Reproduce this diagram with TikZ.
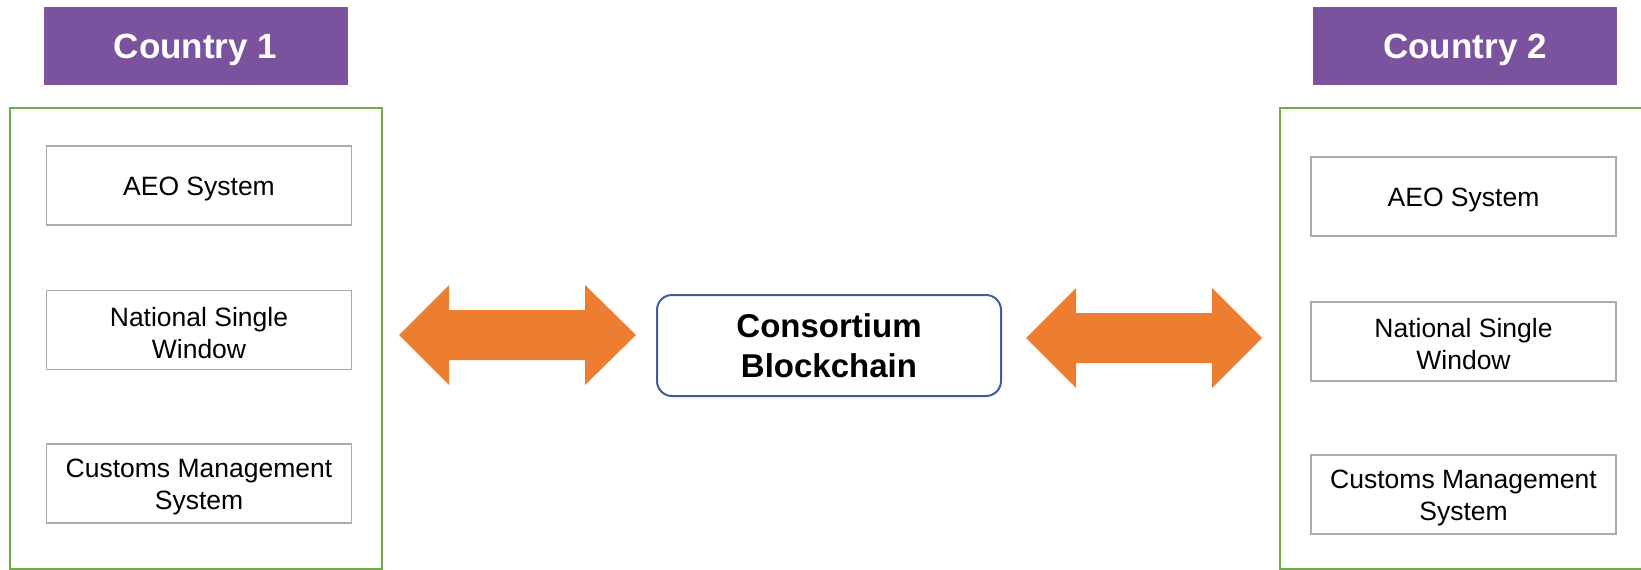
\documentclass[tikz,border=0pt]{standalone}
\usepackage{fontspec}
\setmainfont{Liberation Sans}
\definecolor{hdrc}{HTML}{7B529E}
\definecolor{arrc}{HTML}{ED7D31}
\definecolor{grnc}{HTML}{70AD47}
\definecolor{gryc}{HTML}{ABABAB}
\definecolor{bluc}{HTML}{3F5F9B}
\begin{document}
\begin{tikzpicture}[x=1pt,y=-1pt,
  hdr/.style={fill=hdrc, text=white, font=\fontsize{35}{40}\selectfont\bfseries, minimum width=304pt, minimum height=78pt, inner sep=0pt, text height=25pt, text depth=0pt},
  sysbox/.style={draw=gryc, line width=1.5pt, fill=white, minimum width=305pt, minimum height=79pt, inner sep=0pt},
  systext/.style={align=center, font=\fontsize{26.5}{32}\selectfont, inner sep=0pt, yshift=-3pt},
  grp/.style={draw=grnc, line width=2pt},
  chain/.style={draw=bluc, line width=2pt, rounded corners=15pt, minimum width=344pt, minimum height=101pt, align=center, font=\fontsize{33}{40}\selectfont\bfseries, inner sep=0pt},
  dbl/.style={fill=arrc}]
\useasboundingbox (0,0) rectangle (1641,570);

% headers
\node[hdr] (c1) at (195.5,46) {Country 1};
\node[hdr] (c2) at (1465,46) {Country 2};

% group frames
\draw[grp] (10,108) rectangle (382,569);
\draw[grp] (1280,108) rectangle (1650,569);

% left systems
\node[sysbox] (aeo1) at (199,185.5) {};
\node[systext] (aeo1t) at (aeo1) {AEO System};
\node[sysbox] (nsw1) at (199,330) {};
\node[systext] (nsw1t) at (nsw1) {National Single\\Window};
\node[sysbox] (cms1) at (199,483.5) {};
\node[systext] (cms1t) at (cms1) {Customs Management\\System};

% right systems
\node[sysbox] (aeo2) at (1463.5,196.5) {};
\node[systext] (aeo2t) at (aeo2) {AEO System};
\node[sysbox] (nsw2) at (1463.5,341.5) {};
\node[systext] (nsw2t) at (nsw2) {National Single\\Window};
\node[sysbox] (cms2) at (1463.5,494.5) {};
\node[systext] (cms2t) at (cms2) {Customs Management\\System};

% centre
\node[chain] (bc) at (829,345.5) {Consortium\\Blockchain};

% double arrows
\coordinate (a1) at (399,335);
\fill[dbl] (a1) -- ++(50,-50) -- ++(0,25) -- ++(136,0) -- ++(0,-25) -- ++(51,50)
  -- ++(-51,50) -- ++(0,-25) -- ++(-136,0) -- ++(0,25) -- cycle;
\coordinate (a2) at (1026,338);
\fill[dbl] (a2) -- ++(50,-50) -- ++(0,25) -- ++(136,0) -- ++(0,-25) -- ++(50,50)
  -- ++(-50,50) -- ++(0,-25) -- ++(-136,0) -- ++(0,25) -- cycle;
\end{tikzpicture}
\end{document}
